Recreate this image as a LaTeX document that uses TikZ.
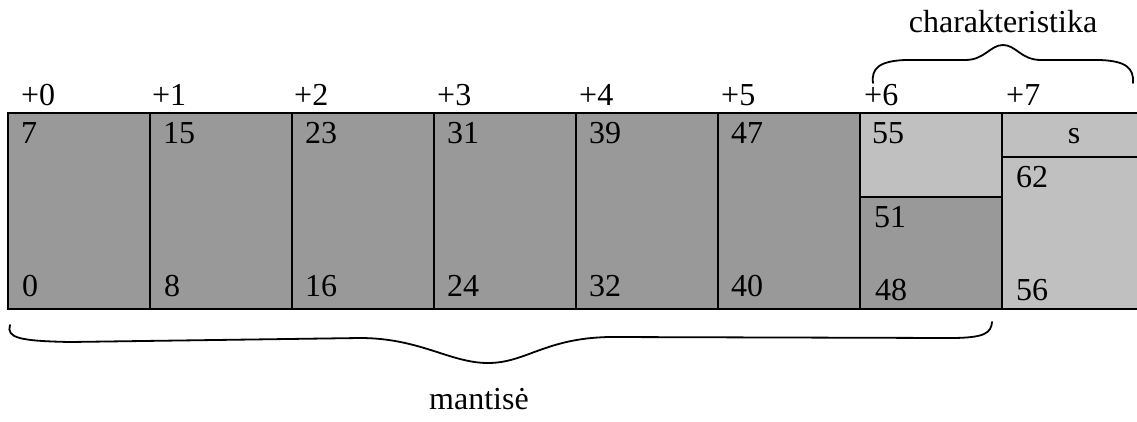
\documentclass[tikz,border=0pt]{standalone}
\usepackage{fontspec}
\setmainfont{Liberation Serif}
\definecolor{darkcell}{RGB}{153,153,153}
\definecolor{lightcell}{RGB}{192,192,192}
\begin{document}
\begin{tikzpicture}[x=1pt,y=-1pt,
  txt/.style={inner sep=0pt,anchor=base west,font=\fontsize{32}{37}\selectfont},
  ctxt/.style={inner sep=0pt,anchor=base,font=\fontsize{32}{37}\selectfont},
  grid/.style={line width=2.2pt},
  bracecurve/.style={line width=1.8pt,line cap=round}]
\useasboundingbox (0,0) rectangle (1137,421);
\clip (0,0) rectangle (1137,421);
% fills
\fill[darkcell] (8,113) rectangle (860,309);
\fill[darkcell] (860,197) rectangle (1002,309);
\fill[lightcell] (860,113) rectangle (1002,197);
\fill[lightcell] (1002,113) rectangle (1146,309);
% grid
\draw[grid] (8,113) rectangle (1146,309);
\foreach \x in {150,292,434,576,718,860,1002} \draw[grid] (\x,113) -- (\x,309);
\draw[grid] (860,197) -- (1002,197);
\draw[grid] (1002,157) -- (1146,157);
% offset labels
\node[txt] (l0) at (21,105) {+0};
\node[txt] (l1) at (152,105) {+1};
\node[txt] (l2) at (294,105) {+2};
\node[txt] (l3) at (437,105) {+3};
\node[txt] (l4) at (579,105) {+4};
\node[txt] (l5) at (721,105) {+5};
\node[txt] (l6) at (864,105) {+6};
\node[txt] (l7) at (1006,105) {+7};
% top bit numbers
\node[txt] (t0) at (21,143) {7};
\node[txt] (t1) at (163,143) {15};
\node[txt] (t2) at (305,143) {23};
\node[txt] (t3) at (447,143) {31};
\node[txt] (t4) at (589,143) {39};
\node[txt] (t5) at (731,143) {47};
\node[txt] (t6) at (872,143) {55};
\node[ctxt] (s) at (1074,143) {s};
\node[txt] (t7) at (1016,187) {62};
\node[txt] (m6) at (874,227) {51};
% bottom bit numbers
\node[txt] (b0) at (22,296) {0};
\node[txt] (b1) at (164,296) {8};
\node[txt] (b2) at (305,296) {16};
\node[txt] (b3) at (447,296) {24};
\node[txt] (b4) at (589,296) {32};
\node[txt] (b5) at (731,296) {40};
\node[txt] (b6) at (875,300) {48};
\node[txt] (b7) at (1016,300) {56};
% top brace
\draw[bracecurve] (873,83) .. controls (871,68) and (880,61) .. (905,60)
  -- (965,60) .. controls (985,60) and (990,45) .. (1003,45)
  .. controls (1016,45) and (1021,60) .. (1041,60)
  -- (1100,60) .. controls (1126,61) and (1134,68) .. (1133,83);
\node[ctxt] (char) at (1003,32) {charakteristika};
% bottom brace
\draw[bracecurve] (10,325) .. controls (6,338) and (20,341) .. (70,342)
  -- (360,338) .. controls (420,338) and (450,363) .. (488,363)
  .. controls (526,363) and (545,338) .. (610,337)
  -- (950,338) .. controls (985,338) and (991,333) .. (992,322);
\node[ctxt] (mant) at (479,409) {mantisė};
\end{tikzpicture}
\end{document}
